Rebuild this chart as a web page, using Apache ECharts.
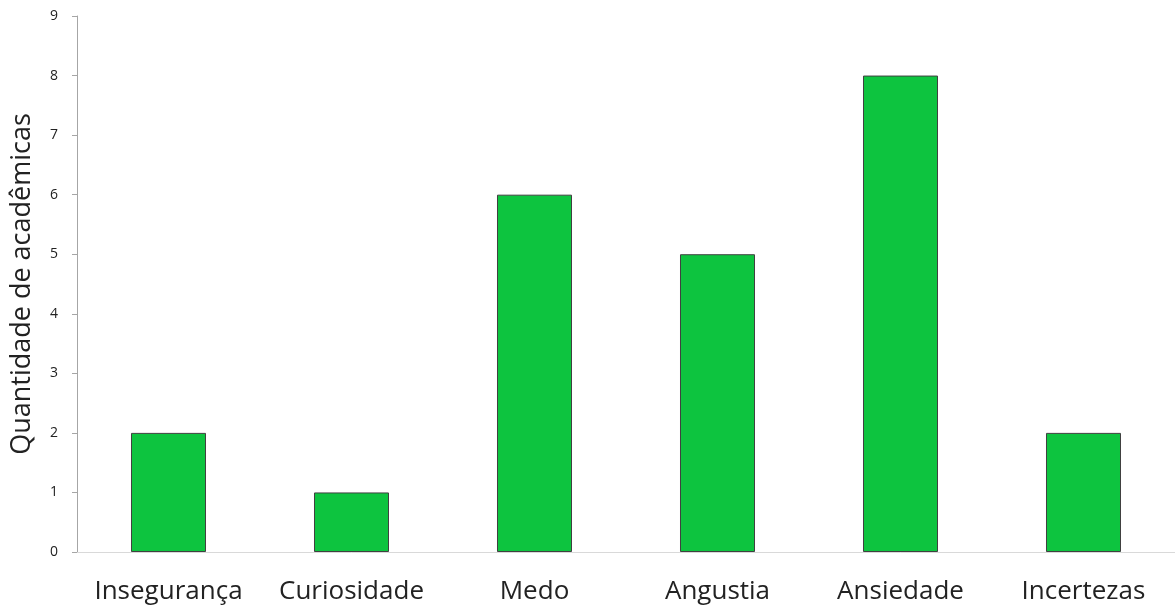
<!DOCTYPE html>
<html><head><meta charset="utf-8">
<script src="https://cdn.jsdelivr.net/npm/echarts@6/dist/echarts.min.js"></script>
<style>html,body{margin:0;padding:0;background:#fff}#c{width:1175px;height:609px}</style>
</head><body><div id="c"></div>
<script>
const categories = ["Insegurança","Curiosidade","Medo","Angustia","Ansiedade","Incertezas"];
const values = [2,1,6,5,8,2];
const yTicks = {min:0,max:9,interval:1};
const chart = echarts.init(document.getElementById('c'));
chart.setOption({
  animation:false,
  grid:{left:77,top:16,bottom:57,width:1102},
  xAxis:{type:'category',data:categories,
    axisLine:{lineStyle:{color:'#d9d9d9',width:1}},
    axisTick:{show:false},
    axisLabel:{color:'#222',fontSize:26,fontFamily:'Open Sans',margin:27,interval:0,hideOverlap:false}},
  yAxis:{type:'value',min:yTicks.min,max:yTicks.max,interval:yTicks.interval,
    name:'Quantidade de acadêmicas',nameLocation:'middle',nameGap:41,
    nameTextStyle:{color:'#222',fontSize:27,fontFamily:'Open Sans'},
    axisLine:{show:true,lineStyle:{color:'#a6a6a6'}},
    axisTick:{show:true,length:5,lineStyle:{color:'#a6a6a6'}},
    splitLine:{show:false},
    axisLabel:{color:'#222',fontSize:14,fontFamily:'Open Sans',margin:19}},
  series:[{type:'bar',data:values,barWidth:'41%',
    itemStyle:{color:'#0dc43f',borderColor:'#404040',borderWidth:1}}]
});
</script></body></html>
